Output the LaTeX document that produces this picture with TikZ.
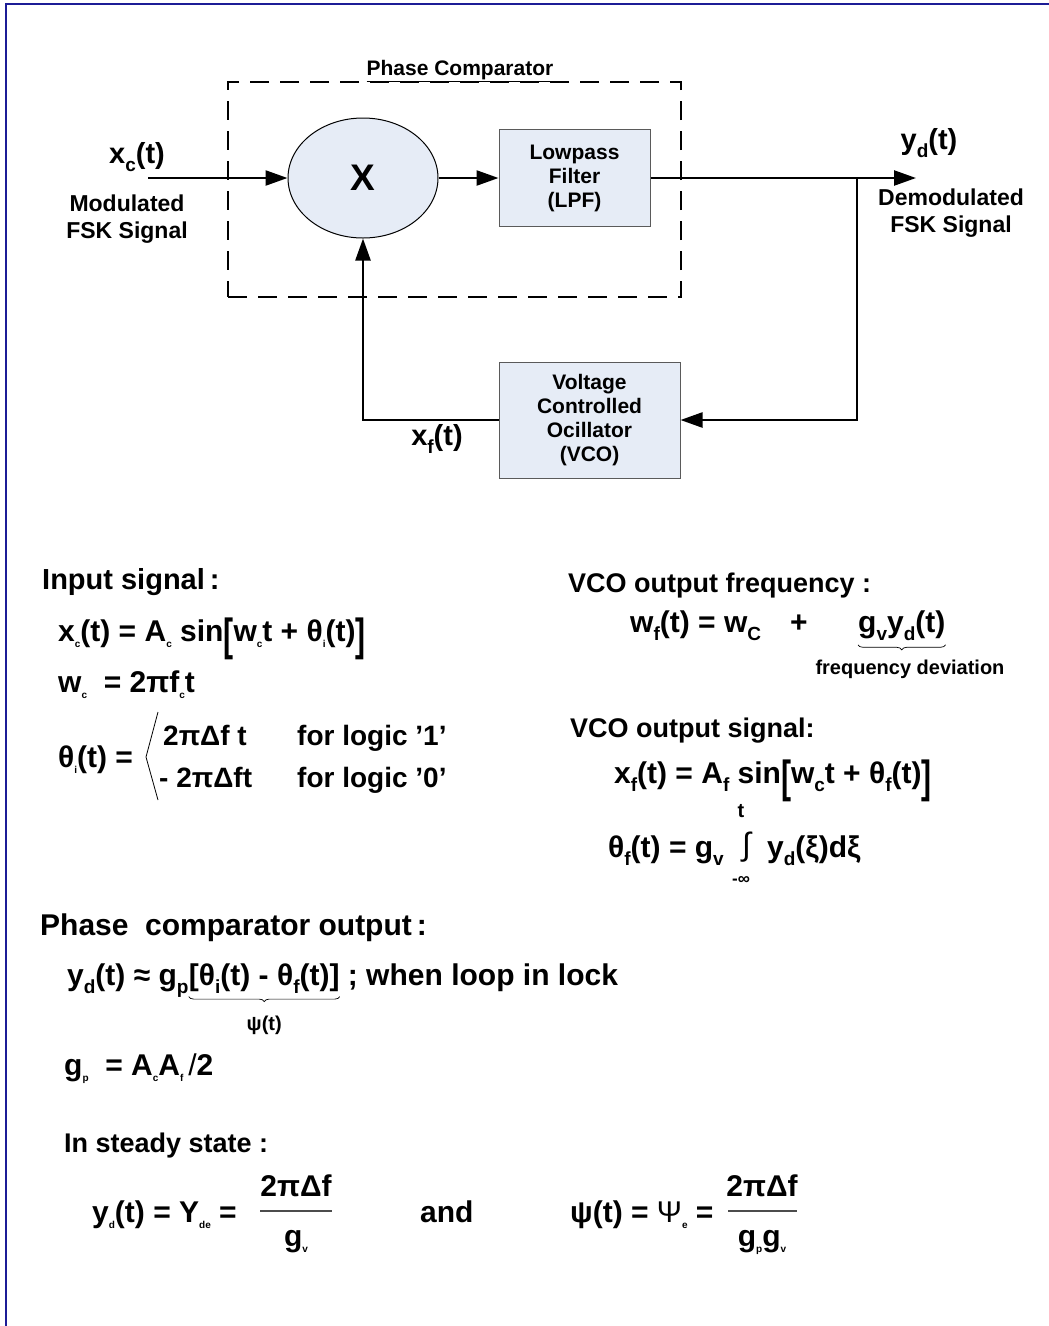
\documentclass[tikz,border=0pt]{standalone}
\usepackage{fontspec}
\setmainfont{Liberation Sans}
\usepackage{xcolor}
\usetikzlibrary{shapes.geometric,arrows.meta,positioning,decorations.pathreplacing}
\definecolor{blockfill}{HTML}{E6ECF6}
\definecolor{blockline}{HTML}{5A5A5A}
\definecolor{framecolor}{HTML}{1C1C96}

\newcommand{\fsz}[1]{\fontsize{#1}{#1}\selectfont}
\newcommand{\tsub}[1]{\raisebox{-0.22em}{\fontsize{10}{10}\selectfont #1}}
\newcommand{\msub}[1]{\raisebox{-0.28em}{\fontsize{19}{19}\selectfont #1}}
\newcommand{\tallbr}[1]{\raisebox{-0.3em}{\scalebox{1}[1.5]{#1}}}

\tikzset{
    blockbox/.style={draw=blockline, fill=blockfill, line width=1pt, align=center, font=\bfseries\fsz{21}},
    sig/.style={line width=2.4pt, -{Triangle[length=22pt,width=15pt]}},
    wire/.style={line width=2.4pt},
    lbl/.style={inner sep=0pt, font=\bfseries\fsz{29}},
    note/.style={inner sep=0pt, align=center, font=\bfseries\fsz{23}},
    eq/.style={anchor=base west, inner sep=0pt, font=\bfseries\fsz{30}},
    head/.style={anchor=base west, inner sep=0pt, font=\bfseries\fsz{27}},
    under/.style={decorate, decoration={brace, mirror, amplitude=5pt}, line width=0.7pt},
    fracbar/.style={line width=1.2pt, draw=black!70},
}

\begin{document}
\begin{tikzpicture}[x=1pt, y=-1pt]
    \useasboundingbox (0,0) rectangle (1049,1326);
    % frame
    \draw[framecolor, line width=2.5pt] (6,1326) -- (6,4) -- (1049,4);

    % phase comparator
    \node [draw, line width=2.6pt, dash pattern=on 19pt off 11pt, minimum width=453pt, minimum height=215pt] (pc) at (454.5,189.5) {};
    \node [inner sep=0pt, font=\bfseries\fsz{21}, anchor=base] (pctitle) at (460,75) {\underline{Phase Comparator}};
    \node [ellipse, draw, fill=blockfill, line width=1pt, minimum width=150pt, minimum height=120pt, font=\bfseries\fsz{37}] (mult) at (363,178) {X};
    \node [blockbox, minimum width=151pt, minimum height=97pt] (lpf) at (574.5,178) {Lowpass\\[3pt]Filter\\[3pt](LPF)};
    \node [blockbox, minimum width=181pt, minimum height=116pt] (vco) at (589.5,420) {Voltage\\[3pt]Controlled\\[3pt]Ocillator\\[3pt](VCO)};

    \coordinate (xin) at (148,178);
    \coordinate (yout) at (916,178);
    \coordinate (tap) at (857,178);

    \draw[sig] (xin) -- (mult);
    \draw[sig] (mult) -- (lpf);
    \draw[sig] (lpf) -- (yout);
    \draw[sig] (tap) |- (vco);
    \draw[sig] (vco.west) -| (mult.south);

    \node [lbl] (xc) at (137,157) {x\msub{c}(t)};
    \node [note] (modsig) at (127,219) {Modulated\\[4pt]FSK Signal};
    \node [lbl] (yd) at (929,143) {y\msub{d}(t)};
    \node [note] (demodsig) at (951,213) {Demodulated\\[4pt]FSK Signal};
    \node [lbl] (xf) at (437,439) {x\msub{f}(t)};

    % input signal
    \node [head, font=\bfseries\fsz{29}] (inhead) at (42,589) {Input signal\,:};
    \node [eq] (xceq) at (58,641) {x\tsub{c}(t) = A\tsub{c} sin\tallbr{[}w\tsub{c}t + θ\tsub{i}(t)\tallbr{]}};
    \node [eq] (wceq) at (58,692) {w\tsub{c}\ \ = 2πf\tsub{c}t};
    \node [eq] (thieq) at (58,767) {θ\tsub{i}(t) =};
    \draw[line width=0.8pt] (158,712) -- (146,757) -- (158,800);
    \node [eq, font=\bfseries\fsz{28}] (thone) at (163,745) {2πΔf t};
    \node [eq, font=\bfseries\fsz{28}] (thzero) at (159,787) {- 2πΔft};
    \node [eq, font=\bfseries\fsz{28}] (logone) at (297,745) {for logic '1'};
    \node [eq, font=\bfseries\fsz{28}] (logzero) at (297,787) {for logic '0'};

    % vco output
    \node [head] (vfhead) at (568,592) {VCO output frequency :};
    \node [eq] (wfeq) at (630,632) {w\msub{f}(t) = w\msub{C}};
    \node [eq] (wfplus) at (790,632) {+};
    \node [eq] (gvyd) at (858,632) {g\msub{v}y\msub{d}(t)};
    \draw[under] ([yshift=-4pt]gvyd.south west) -- ([yshift=-4pt]gvyd.south east);
    \node [anchor=base, inner sep=0pt, font=\bfseries\fsz{20}] (fdev) at (910,674) {frequency deviation};

    \node [head] (vshead) at (570,737) {VCO output signal:};
    \node [eq] (xfeq) at (614,783) {x\msub{f}(t) = A\msub{f} sin\tallbr{[}w\msub{c}t + θ\msub{f}(t)\tallbr{]}};
    \node [eq] (thfeq) at (608,857) {θ\msub{f}(t) = g\msub{v}};
    \node [eq, font=\fsz{32}] (intg) at (742,855) {∫};
    \node [anchor=base, inner sep=0pt, font=\bfseries\fsz{20}] (intup) at (741,817) {t};
    \node [anchor=base, inner sep=0pt, font=\bfseries\fsz{17}] (intlo) at (741,884) {-∞};
    \node [eq] (ydxi) at (767,857) {y\msub{d}(ξ)dξ};

    % phase comparator output
    \node [head, font=\bfseries\fsz{30}] (pchead) at (40,935) {Phase\ \ comparator output\,:};
    \node [eq] (ydeq) at (67,985) {y\msub{d}(t) ≈ g\msub{p}};
    \node [eq, anchor=base west] (psigrp) at (ydeq.base east) {[θ\msub{i}(t) - θ\msub{f}(t)]};
    \node [eq, anchor=base west] (lock) at ([xshift=8pt]psigrp.base east) {; when loop in lock};
    \draw[under] ([yshift=-3pt]psigrp.south west) -- ([yshift=-3pt]psigrp.south east);
    \node [anchor=base, inner sep=0pt, font=\bfseries\fsz{20}] (psi) at (psigrp.south |- 0,1030) {ψ(t)};
    \node [eq] (gpeq) at (64,1075) {g\tsub{p}\ \ = A\tsub{c}A\tsub{f}\,\textmd{/}2};

    % steady state
    \node [head] (sshead) at (64,1152) {In steady state :};
    \node [eq] (ydss) at (92,1222) {y\tsub{d}(t) = Y\tsub{de} =};
    \node [eq, anchor=base] (numa) at (296,1196) {2πΔf};
    \node [eq, anchor=base] (dena) at (296,1246) {g\tsub{v}};
    \draw[fracbar] (260,1211) -- (332,1211);
    \node [eq] (andw) at (420,1222) {and};
    \node [eq] (psiss) at (570,1222) {ψ(t) = \textmd{Ψ}\tsub{e} =};
    \node [eq, anchor=base] (numb) at (762,1196) {2πΔf};
    \node [eq, anchor=base] (denb) at (762,1246) {g\tsub{p}g\tsub{v}};
    \draw[fracbar] (728,1211) -- (797,1211);
\end{tikzpicture}
\end{document}
